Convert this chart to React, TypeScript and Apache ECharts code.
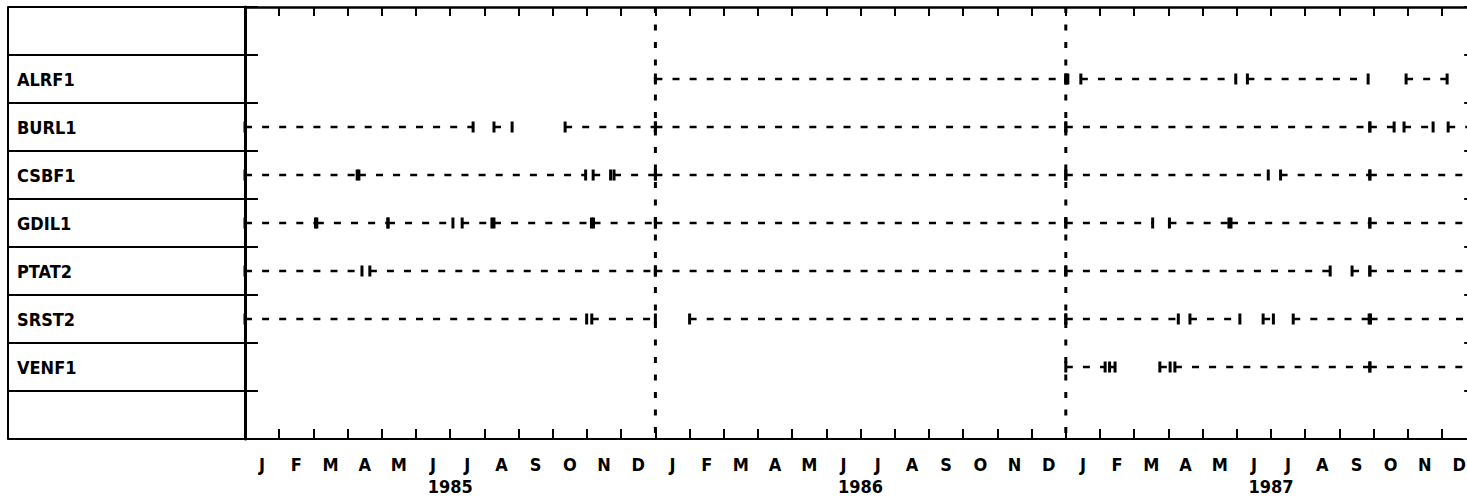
import React, { useEffect, useRef } from 'react';
import * as echarts from 'echarts';

// Stations (rows) and axis labels
const stations = ['ALRF1', 'BURL1', 'CSBF1', 'GDIL1', 'PTAT2', 'SRST2', 'VENF1'];
const months = ['J', 'F', 'M', 'A', 'M', 'J', 'J', 'A', 'S', 'O', 'N', 'D'];
const years = ['1985', '1986', '1987'];
const yearBreaks = [12, 24];

// Record periods per station, in months since 1 Jan 1985: [start, end]
const alrf1 = [[12, 24], [24, 24.06], [24.44, 28.97], [29.31, 32.84], [33.95, 35.15]];
const burl1 = [[0, 6.67], [7.28, 7.81], [9.36, 12], [12, 24], [24, 32.89], [32.89, 33.6], [33.89, 34.74], [35.18, 36]];
const csbf1 = [[0, 3.28], [3.33, 9.96], [10.18, 10.69], [10.79, 12], [12, 24], [24, 29.92], [30.28, 32.89], [32.89, 36]];
const gdil1 = [[0, 2.06], [2.1, 4.18], [4.18, 6.08], [6.35, 7.22], [7.28, 10.13], [10.19, 12], [12, 24], [24, 26.54], [27.03, 28.77], [28.83, 32.89], [32.89, 36]];
const ptat2 = [[0, 3.42], [3.65, 12], [12, 24], [24, 31.73], [32.37, 32.89], [32.89, 36]];
const srst2 = [[0, 9.99], [10.14, 12], [13.0, 24], [24, 27.29], [27.63, 29.09], [29.77, 30.07], [30.65, 32.87], [32.91, 36]];
const venf1 = [[24, 25.15], [25.28, 25.44], [26.75, 27.05], [27.19, 32.89], [32.89, 36]];

const periods = [alrf1, burl1, csbf1, gdil1, ptat2, srst2, venf1];

const FONT = "'DejaVu Sans Condensed', 'DejaVu Sans', sans-serif";

export default function App() {
  const ref = useRef<HTMLDivElement>(null);

  useEffect(() => {
    document.body.style.margin = '0';
    if (!ref.current) return;
    const chart = echarts.init(ref.current, null, { renderer: 'svg' });

    const rows = [' ', ...stations, '  '];
    const data: number[][] = [];
    periods.forEach((list, i) => {
      list.forEach(([s, e]) => data.push([s, e, i + 1.5]));
    });
    const monthCats: string[] = [];
    years.forEach(() => months.forEach((m) => monthCats.push(m)));

    const lineStyle = { color: '#000', width: 2 };
    const nRows = rows.length;
    const labelFont = { color: '#000', fontSize: 18, fontWeight: 'bold', fontFamily: FONT };

    chart.setOption({
      animation: false,
      backgroundColor: '#fff',
      grid: { left: 245, top: 7, width: 1231.2, height: 432, containLabel: false, outerBoundsMode: 'none' },
      xAxis: [
        {
          type: 'value', position: 'bottom', min: 0, max: 36, interval: 1,
          axisLine: { show: true, onZero: false, lineStyle },
          axisTick: { show: true, inside: true, length: 10, lineStyle: { color: '#000', width: 2 } },
          axisLabel: { show: false }, splitLine: { show: false },
        },
        {
          type: 'value', position: 'top', min: 0, max: 36, interval: 1,
          axisLine: { show: true, onZero: false, lineStyle: { color: '#000', width: 2.5 } },
          axisTick: { show: true, inside: true, length: 9, lineStyle: { color: '#000', width: 2 } },
          axisLabel: { show: false }, splitLine: { show: false },
        },
        {
          type: 'category', position: 'bottom', data: monthCats, boundaryGap: true,
          axisLine: { show: false, onZero: false }, axisTick: { show: false },
          axisLabel: { interval: 0, margin: 16, ...labelFont },
          splitLine: { show: false },
        },
        {
          type: 'category', position: 'bottom', data: years, boundaryGap: true,
          axisLine: { show: false, onZero: false }, axisTick: { show: false },
          axisLabel: { interval: 0, margin: 38, ...labelFont },
          splitLine: { show: false },
        },
      ],
      yAxis: [
        {
          type: 'value', position: 'left', inverse: true, min: 0, max: nRows, interval: 1,
          axisLine: { show: true, onZero: false, lineStyle: { color: '#000', width: 3 } },
          axisTick: { show: true, inside: false, length: 237, lineStyle: { color: '#000', width: 2 } },
          axisLabel: { show: false }, splitLine: { show: false },
        },
        {
          type: 'category', position: 'left', inverse: true, data: rows, boundaryGap: true,
          axisLine: { show: false, onZero: false },
          axisTick: { show: false },
          axisLabel: { interval: 0, align: 'left', margin: 228, ...labelFont },
          splitLine: { show: false },
        },
        {
          type: 'value', position: 'left', offset: 237, inverse: true, min: 0, max: nRows,
          axisLine: { show: true, onZero: false, lineStyle },
          axisTick: { show: false }, axisLabel: { show: false }, splitLine: { show: false },
        },
        {
          type: 'value', position: 'left', inverse: true, min: 0, max: nRows, interval: 1,
          axisLine: { show: false, onZero: false },
          axisTick: { show: true, inside: true, length: 13, lineStyle: { color: '#000', width: 2 } },
          axisLabel: { show: false }, splitLine: { show: false },
        },
        {
          type: 'value', position: 'right', inverse: true, min: 0, max: nRows, interval: 1,
          axisLine: { show: false, onZero: false },
          axisTick: { show: true, inside: true, length: 12, lineStyle: { color: '#000', width: 2 } },
          axisLabel: { show: false }, splitLine: { show: false },
        },
      ],
      series: [
        {
          type: 'custom',
          xAxisIndex: 0,
          yAxisIndex: 0,
          silent: true,
          encode: { x: [0, 1], y: 2 },
          data,
          renderItem: (params: any, api: any) => {
            const s = api.value(0);
            const e = api.value(1);
            const r = api.value(2);
            const p1 = api.coord([s, r]);
            const p2 = api.coord([e, r]);
            const h = 5.5;
            return {
              type: 'group',
              children: [
                {
                  type: 'line',
                  shape: { x1: p1[0], y1: p1[1], x2: p2[0], y2: p2[1] },
                  style: { stroke: '#000', lineWidth: 2.5, lineDash: [7, 10.1] },
                },
                {
                  type: 'line',
                  shape: { x1: p1[0], y1: p1[1] - h, x2: p1[0], y2: p1[1] + h },
                  style: { stroke: '#000', lineWidth: 3 },
                },
                {
                  type: 'line',
                  shape: { x1: p2[0], y1: p2[1] - h, x2: p2[0], y2: p2[1] + h },
                  style: { stroke: '#000', lineWidth: 3 },
                },
              ],
            };
          },
        },
        {
          type: 'custom',
          xAxisIndex: 0,
          yAxisIndex: 0,
          silent: true,
          encode: { x: 0 },
          data: yearBreaks.map((v) => [v]),
          renderItem: (params: any, api: any) => {
            const v = api.value(0);
            const top = api.coord([v, 0]);
            const bot = api.coord([v, nRows]);
            return {
              type: 'line',
              shape: { x1: top[0], y1: top[1], x2: bot[0], y2: bot[1] },
              style: { stroke: '#000', lineWidth: 3, lineDash: [6, 11.5] },
            };
          },
        },
      ],
    });

    return () => chart.dispose();
  }, []);

  return <div ref={ref} style={{ width: 1467, height: 503 }} />;
}
